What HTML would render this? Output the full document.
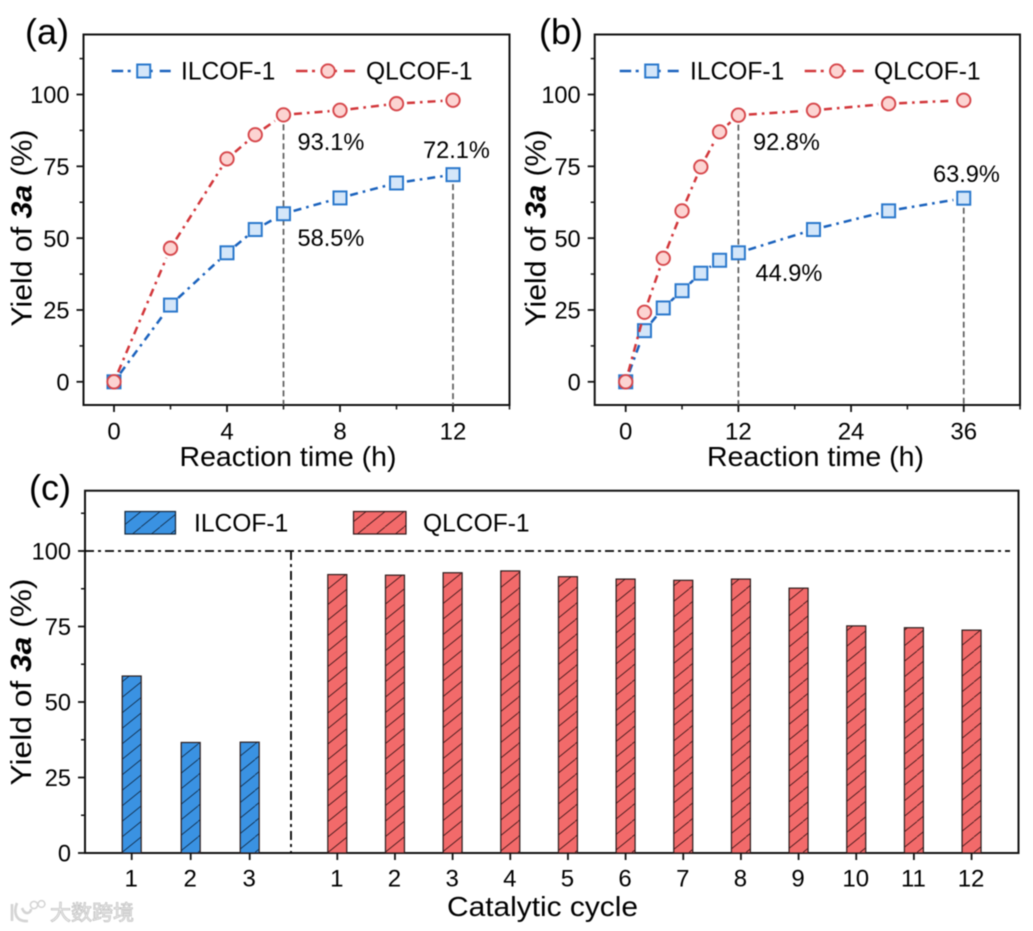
<!DOCTYPE html>
<html lang="en">
<head>
<meta charset="utf-8">
<title>Yield of 3a for ILCOF-1 and QLCOF-1</title>
<style>
html,body{margin:0;padding:0;background:#fff;width:1033px;height:931px;overflow:hidden}
#fig{display:block;filter:blur(0.5px)}
text{font-family:"Liberation Sans","Noto Sans CJK SC",sans-serif;fill:#000}
</style>
</head>
<body>
<svg id="fig" width="1033" height="931" viewBox="0 0 1033 931" xmlns="http://www.w3.org/2000/svg">
<defs>
<pattern id="hatch-blue" patternUnits="userSpaceOnUse" width="19" height="15.5" x="122" y="0">
<rect width="19" height="15.5" fill="#3a92e2"/>
<path d="M-2 17 L21 -1.5" stroke="#0f2a48" stroke-width="0.9"/>
</pattern>
<pattern id="hatch-red" patternUnits="userSpaceOnUse" width="19" height="15.5" x="328" y="0">
<rect width="19" height="15.5" fill="#f26a6a"/>
<path d="M-2 17 L21 -1.5" stroke="#3a1416" stroke-width="0.9"/>
</pattern>
</defs>
</svg>
<script>
// Panel (a) data
const timesA = [0, 2, 4, 5, 6, 8, 10, 12];
const ilcofA = [0, 26.7, 44.9, 53, 58.5, 64, 69.2, 72.1];
const qlcofA = [0, 46.5, 77.6, 86, 92.9, 94.5, 96.8, 98];
const dropTimesA = [6, 12];
const dropTopsA = [92.9, 72.1];
const xTicksA = [0, 4, 8, 12];
const xMinorA = [2, 6, 10, 14];

// Panel (b) data
const timesB = [0, 2, 4, 6, 8, 10, 12, 20, 28, 36];
const ilcofB = [0, 17.8, 25.7, 31.7, 37.8, 42.3, 44.9, 53, 59.5, 63.9];
const qlcofB = [0, 24.2, 43, 59.5, 74.8, 87, 92.8, 94.5, 96.8, 98];
const dropTimesB = [12, 36];
const dropTopsB = [92.8, 63.9];
const xTicksB = [0, 12, 24, 36];
const xMinorB = [6, 18, 30, 42];

// Shared y-axis data
const yTicks = [0, 25, 50, 75, 100];
const yMinor = [12.5, 37.5, 62.5, 87.5, 112.5];

// Panel (c) data
const cyclesBlue = [1, 2, 3];
const yieldsBlue = [58.6, 36.6, 36.7];
const cyclesRed = [1, 2, 3, 4, 5, 6, 7, 8, 9, 10, 11, 12];
const yieldsRed = [92.2, 92, 92.8, 93.4, 91.5, 90.7, 90.3, 90.7, 87.7, 75.2, 74.6, 73.8];
const referenceLevel = 100;

const svg = document.getElementById('fig');
const NS = 'http://www.w3.org/2000/svg';
const BLUE = {line:'#1a62bd', edge:'#2a78cc', fill:'#d4e6f9'};
const RED = {line:'#d2363a', edge:'#d6464a', fill:'#fcd4d2'};
const AXIS = '#111';

function mk(tag, attrs, parent) {
  const el = document.createElementNS(NS, tag);
  for (const k in attrs) el.setAttribute(k, attrs[k]);
  (parent || svg).appendChild(el);
  return el;
}
function label(str, x, y, size, anchor, fit, parent) {
  const a = {x:x, y:y, 'font-size':size, 'text-anchor':anchor || 'start'};
  if (fit) { a.textLength = fit; a.lengthAdjust = 'spacingAndGlyphs'; }
  const t = mk('text', a, parent);
  t.textContent = str;
  return t;
}
function yTitle(x, yc, fit, parent) {
  const t = mk('text', {transform:'translate(' + x + ' ' + yc + ') rotate(-90)', 'font-size':28.5, 'text-anchor':'middle', textLength:fit, lengthAdjust:'spacingAndGlyphs'}, parent);
  
  
  const a = document.createElementNS(NS, 'tspan');
  a.textContent = 'Yield of ';
  const b = document.createElementNS(NS, 'tspan');
  b.setAttribute('font-weight', 'bold');
  b.setAttribute('font-style', 'italic');
  b.textContent = '3a';
  const c = document.createElementNS(NS, 'tspan');
  c.textContent = ' (%)';
  t.appendChild(a); t.appendChild(b); t.appendChild(c);
}
function marker(kind, x, y, col, parent) {
  let m;
  if (kind === 'square') {
    m = mk('rect', {x:x - 6.5, y:y - 6.5, width:13, height:13, fill:col.fill, stroke:col.edge, 'stroke-width':2}, parent);
  } else {
    m = mk('circle', {cx:x, cy:y, r:6.7, fill:col.fill, stroke:col.edge, 'stroke-width':1.9}, parent);
  }
  return m;
}
function drawYAxis(g, left, sy) {
  yTicks.forEach(function (v) {
    const tick = mk('line', {x1:left - 7, x2:left, y1:sy(v), y2:sy(v), stroke:AXIS, 'stroke-width':1.8}, g);
    
    
    const t = label(String(v), left - 14, sy(v) + 8.7, 23.6, 'end', null, g);
    
    
  });
  yMinor.forEach(function (v) {
    const tick = mk('line', {x1:left - 4, x2:left, y1:sy(v), y2:sy(v), stroke:AXIS, 'stroke-width':1.5}, g);
    
    
  });
}
function drawSeries(g, times, vals, kind, col, sx, sy, name) {
  const gap = 10.5;
  for (let i = 0; i < times.length - 1; i++) {
    const x1 = sx(times[i]), y1 = sy(vals[i]), x2 = sx(times[i + 1]), y2 = sy(vals[i + 1]);
    const d = Math.hypot(x2 - x1, y2 - y1);
    if (d <= gap * 2) continue;
    const ux = (x2 - x1) / d, uy = (y2 - y1) / d;
    const seg = mk('line', {x1:x1 + ux * gap, y1:y1 + uy * gap, x2:x2 - ux * gap, y2:y2 - uy * gap, stroke:col.line, 'stroke-width':2.5, 'stroke-dasharray':'8 5 2.6 5'}, g);
    
    
  }
  times.forEach(function (t, i) {
    const m = marker(kind, sx(t), sy(vals[i]), col, g);
    
    
  });
}
function legendEntry(g, x1, x2, y, kind, col, str, tx, name) {
  const l = mk('line', {x1:x1, x2:x2, y1:y, y2:y, stroke:col.line, 'stroke-width':2.4, 'stroke-dasharray':'11.5 4.5 3 19 3 7 11 10'}, g);
  
  
  const m = marker(kind, x1 + 32, y, col, g);
  
  
  const t = label(str, tx, y + 8.7, 24.6, 'start', null, g);
  
  
}

function linePanel(p) {
  const g = mk('g', {});
  
  
  const sx = function (t) { return p.x0 + t * p.xs; };
  const sy = function (v) { return 381.8 - v * 2.873; };

  const frame = mk('rect', {x:p.left, y:34.5, width:p.right - p.left, height:370.5, fill:'none', stroke:AXIS, 'stroke-width':2}, g);
  
  
  drawYAxis(g, p.left, sy);
  p.ticks.forEach(function (v) {
    const tick = mk('line', {x1:sx(v), x2:sx(v), y1:405, y2:412, stroke:AXIS, 'stroke-width':1.8}, g);
    
    
    const t = label(String(v), sx(v), 439.5, 24, 'middle', null, g);
    
    
  });
  p.minor.forEach(function (v) {
    const tick = mk('line', {x1:sx(v), x2:sx(v), y1:405, y2:409.5, stroke:AXIS, 'stroke-width':1.5}, g);
    
    
  });
  p.dropT.forEach(function (t, i) {
    const d = mk('line', {x1:sx(t), x2:sx(t), y1:sy(p.dropV[i]), y2:405, stroke:'#5c5c5c', 'stroke-width':1.7, 'stroke-dasharray':'6 3.5'}, g);
    
    
  });
  drawSeries(g, p.times, p.blue, 'square', BLUE, sx, sy, 'ilcof');
  drawSeries(g, p.times, p.red, 'circle', RED, sx, sy, 'qlcof');
  p.notes.forEach(function (n) {
    const t = label(n[0], n[1], n[2], 23.6, 'start', null, g);
    
    
  });
  legendEntry(g, p.leg[0], p.leg[0] + 59, 71, 'square', BLUE, 'ILCOF-1', p.leg[1], 'ilcof');
  legendEntry(g, p.leg[2], p.leg[2] + 59, 71, 'circle', RED, 'QLCOF-1', p.leg[3], 'qlcof');
  const xt = label('Reaction time (h)', p.tx, 466, 28, 'start', 217, g);
  
  
  yTitle(p.ytx, 228, 197, g);
  const pl = label(p.tag, p.tagx, 44, 36, 'start', null, g);
  
  
}

linePanel({name:'panel-a', left:83.5, right:509.5, x0:114, xs:28.25, times:timesA, blue:ilcofA, red:qlcofA,
  ticks:xTicksA, minor:xMinorA, dropT:dropTimesA, dropV:dropTopsA,
  notes:[['93.1%',297.5,150],['72.1%',423,158],['58.5%',297.5,246]],
  leg:[111.7,181,296,366], tx:179.5, ytx:31.5, tag:'(a)', tagx:25});
linePanel({name:'panel-b', left:594.7, right:1020, x0:625.7, xs:9.39, times:timesB, blue:ilcofB, red:qlcofB,
  ticks:xTicksB, minor:xMinorB, dropT:dropTimesB, dropV:dropTopsB,
  notes:[['92.8%',753,150],['63.9%',933,182],['44.9%',755.5,281]],
  leg:[619.7,690,804.7,874], tx:707, ytx:545.5, tag:'(b)', tagx:539});

// Panel (c)
(function () {
  const g = mk('g', {});
  
  
  const left = 85, right = 1018.5, top = 490.7, bottom = 853;
  const sy = function (v) { return bottom - v * 3.02; };
  const sxBlue = function (c) { return 131.7 + (c - 1) * 59; };
  const sxRed = function (c) { return 337.3 + (c - 1) * 57.66; };
  const frame = mk('rect', {x:left, y:top, width:right - left, height:bottom - top, fill:'none', stroke:AXIS, 'stroke-width':2}, g);
  
  
  drawYAxis(g, left, sy);

  function bars(cats, vals, sx, fill, name) {
    cats.forEach(function (c, i) {
      const x = sx(c);
      const b = mk('rect', {x:x - 9.5, y:sy(vals[i]), width:19, height:bottom - sy(vals[i]), fill:fill, stroke:'#2a1c1c', 'stroke-width':1.2}, g);
      
      
      const tick = mk('line', {x1:x, x2:x, y1:bottom, y2:bottom + 7, stroke:AXIS, 'stroke-width':1.8}, g);
      
      
      const t = label(String(c), x - 0.5, 886.5, 24, 'middle', null, g);
      
      
    });
  }
  bars(cyclesBlue, yieldsBlue, sxBlue, 'url(#hatch-blue)', 'ilcof');
  bars(cyclesRed, yieldsRed, sxRed, 'url(#hatch-red)', 'qlcof');

  const ref = mk('line', {x1:left, x2:1010, y1:sy(referenceLevel), y2:sy(referenceLevel), stroke:'#000', 'stroke-width':1.8, 'stroke-dasharray':'9 4 3 4'}, g);
  
  
  const div = mk('line', {x1:291, x2:291, y1:sy(referenceLevel), y2:bottom, stroke:'#000', 'stroke-width':1.8, 'stroke-dasharray':'9 4 3 4'}, g);
  
  

  const lb = mk('rect', {x:125, y:511.5, width:50.5, height:22.5, fill:'url(#hatch-blue)', stroke:'#14263a', 'stroke-width':1.2}, g);
  
  
  const lr = mk('rect', {x:353.5, y:511.5, width:52.5, height:22.5, fill:'url(#hatch-red)', stroke:'#2e1719', 'stroke-width':1.2}, g);
  
  
  const tb = label('ILCOF-1', 194, 531.5, 24.6, 'start', null, g);
  
  
  const tr = label('QLCOF-1', 423, 531.5, 24.6, 'start', null, g);
  
  

  const xt = label('Catalytic cycle', 447, 916, 28, 'start', 191, g);
  
  
  yTitle(31, 682, 207, g);
  const pl = label('(c)', 29, 500, 36, 'start', null, g);
  
  

  const wm = mk('g', {}, svg);
  
  
  const arc = mk('path', {d:'M12 904 L12 921 M17 903 C13 913 16 922 28 921 M22 908 C25 916 31 913 31 909', fill:'none', stroke:'#d4d4d4', 'stroke-width':2.6}, wm);
  
  
  const c1 = mk('circle', {cx:34, cy:905, r:3.6, fill:'none', stroke:'#d4d4d4', 'stroke-width':1.5}, wm);
  
  
  const c2 = mk('circle', {cx:41.5, cy:904, r:3.4, fill:'none', stroke:'#d4d4d4', 'stroke-width':1.5}, wm);
  
  
  const wt = label('大数跨境', 50, 920, 21, 'start', 84, wm);
  wt.style.fill = '#f2f2f2';
  wt.style.stroke = '#c4c4c4';
  wt.style.strokeWidth = '0.8';
  
  
})();
</script>
</body>
</html>
